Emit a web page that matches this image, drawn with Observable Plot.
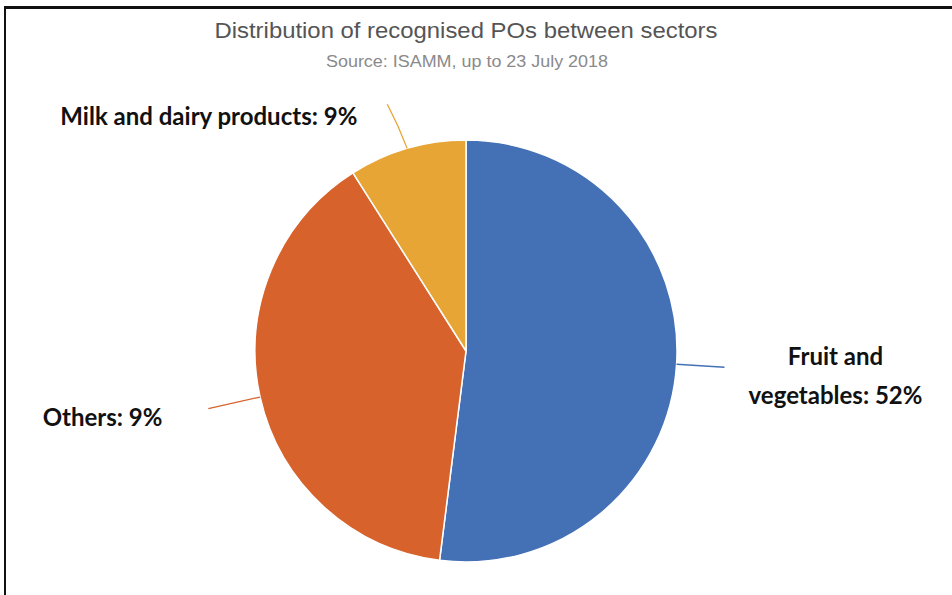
<!DOCTYPE html>
<html>
<head>
<meta charset="utf-8">
<script src="https://cdn.jsdelivr.net/npm/d3@7"></script>
<script src="https://cdn.jsdelivr.net/npm/@observablehq/plot@0.6"></script>
<style>
  html, body { margin: 0; padding: 0; background: #fff; }
  #wrap { position: relative; width: 952px; height: 595px; overflow: hidden; }
  #frame { position: absolute; left: 4px; top: 6px; width: 960px; height: 600px;
           border-left: 2px solid #111; border-top: 3px solid #111; box-sizing: border-box; pointer-events: none; }
</style>
</head>
<body>
<div id="wrap"><div id="chart"></div><div id="frame"></div></div>
<script>
const title = "Distribution of recognised POs between sectors";
const subtitle = "Source: ISAMM, up to 23 July 2018";
const sectors = ["Fruit and vegetables", "Others", "Milk and dairy products"];
const shares = [52, 39, 9];
const labelLines = [["Fruit and", "vegetables: 52%"], ["Others: 9%"], ["Milk and dairy products: 9%"]];
const colors = ["#4470B6", "#D7622B", "#E6A534"];

const data = sectors.map((s, i) => ({sector: s, share: shares[i], lines: labelLines[i]}));
const color = Plot.scale({color: {type: "ordinal", domain: sectors, range: colors}});

// layout constants (pixels)
const cx = 466, cy = 351, R = 211;
const labelLayout = {
  "Fruit and vegetables": {rout: 259, rot: 0.0, dx: 111, dy: -11, anchor: "middle", lh: 39},
  "Others": {rout: 264, rot: 0.0, dx: -46, dy: 9, anchor: "end", lh: 0},
  "Milk and dairy products": {rout: 259, rot: -0.026, dx: -30, dy: 12, anchor: "end", lh: 0}
};

function headMark(index, scales, values, dimensions) {
  const g = d3.create("svg:g")
    .attr("font-family", "'Liberation Sans', Arial, sans-serif")
    .attr("text-anchor", "middle");
  g.append("text").attr("x", cx).attr("y", 30).attr("dy", "0.35em")
    .attr("font-size", 22).attr("fill", "#555")
    .attr("textLength", 503).attr("lengthAdjust", "spacingAndGlyphs")
    .text(title);
  g.append("text").attr("x", 467).attr("y", 61).attr("dy", "0.35em")
    .attr("font-size", 16).attr("fill", "#8a8a8a")
    .attr("textLength", 282).attr("lengthAdjust", "spacingAndGlyphs")
    .text(subtitle);
  return g.node();
}

function pieMark(index, scales, values, dimensions) {
  const svg = d3.create("svg:g");
  const pie = d3.pie().value(d => d.share).sort(null)(data);
  const arc = d3.arc().innerRadius(0).outerRadius(R);
  const g = svg.append("g").attr("transform", `translate(${cx},${cy})`);
  g.selectAll("path.slice").data(pie).join("path")
    .attr("d", arc)
    .attr("fill", d => color.apply(d.data.sector))
    .attr("stroke", "#fff").attr("stroke-width", 1.5).attr("stroke-linejoin", "round");
  const outer = d => {
    const L = labelLayout[d.data.sector];
    const a = (d.startAngle + d.endAngle) / 2 + L.rot;
    return [L.rout * Math.sin(a), -L.rout * Math.cos(a)];
  };
  // leader lines
  g.selectAll("path.leader").data(pie).join("path")
    .attr("fill", "none")
    .attr("stroke", d => color.apply(d.data.sector))
    .attr("stroke-width", 1.3)
    .attr("d", d => {
      const a = (d.startAngle + d.endAngle) / 2;
      const x0 = R * Math.sin(a), y0 = -R * Math.cos(a);
      const [x1, y1] = outer(d);
      const L = labelLayout[d.data.sector];
      const am = a + L.rot * 0.3, rm = (R + L.rout) / 2;
      const xm = rm * Math.sin(am), ym = -rm * Math.cos(am);
      return `M${x0},${y0}Q${xm},${ym} ${x1},${y1}`;
    });
  // labels
  const lab = g.selectAll("text.label").data(pie).join("text")
    .attr("font-family", "Lato, 'Open Sans', sans-serif")
    .attr("font-weight", "bold")
    .attr("font-size", 24)
    .attr("fill", "#111")
    .attr("text-anchor", d => labelLayout[d.data.sector].anchor)
    .attr("transform", d => {
      const L = labelLayout[d.data.sector];
      const [x1, y1] = outer(d);
      return `translate(${x1 + L.dx},${y1 + L.dy})`;
    });
  lab.each(function(d) {
    const L = labelLayout[d.data.sector];
    d3.select(this).selectAll("tspan").data(d.data.lines).join("tspan")
      .attr("x", 0).attr("y", (t, i) => i * L.lh).attr("dy", "0.35em").text(t => t);
  });
  return svg.node();
}

const chart = Plot.plot({
  width: 952,
  height: 595,
  margin: 0,
  x: {axis: null}, y: {axis: null},
  marks: [headMark, pieMark]
});
document.getElementById("chart").appendChild(chart);
</script>
</body>
</html>
